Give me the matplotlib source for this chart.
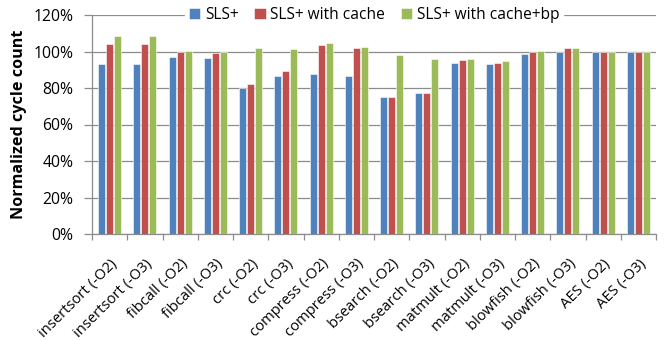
import numpy as np
import matplotlib
matplotlib.use("Agg")
import matplotlib.pyplot as plt
from matplotlib.ticker import PercentFormatter

matplotlib.rcParams["font.family"] = ["Open Sans", "DejaVu Sans"]

# Data (percent of baseline cycle count)
benchmarks = [
    "insertsort (-O2)", "insertsort (-O3)", "fibcall (-O2)", "fibcall (-O3)",
    "crc (-O2)", "crc (-O3)", "compress (-O2)", "compress (-O3)",
    "bsearch (-O2)", "bsearch (-O3)", "matmult (-O2)", "matmult (-O3)",
    "blowfish (-O2)", "blowfish (-O3)", "AES (-O2)", "AES (-O3)",
]
sls = [93.3, 93.3, 97.1, 96.2, 80.0, 86.5, 87.8, 86.5,
       74.9, 77.3, 93.8, 93.1, 98.9, 100.0, 100.0, 100.0]
sls_cache = [104.0, 104.0, 100.0, 99.1, 82.0, 89.3, 103.5, 101.8,
             74.9, 77.3, 95.1, 93.8, 100.0, 101.8, 100.0, 100.0]
sls_cache_bp = [108.3, 108.3, 100.5, 100.0, 101.8, 101.4, 104.4, 102.5,
                98.2, 96.0, 96.0, 94.7, 100.5, 101.8, 100.0, 100.0]
series_names = ["SLS+", "SLS+ with cache", "SLS+ with cache+bp"]
colors = ["#4F81BD", "#C0504D", "#9BBB59"]

fig = plt.figure(figsize=(6.64, 3.4), dpi=100)
ax = fig.add_axes([92 / 664, 1 - 234 / 340, (656 - 92) / 664, (234 - 15) / 340])

x = np.arange(len(benchmarks))
width = 0.2
step = 0.227
for i, (vals, name, c) in enumerate(zip([sls, sls_cache, sls_cache_bp], series_names, colors)):
    ax.bar(x + (i - 1) * step, vals, width, color=c, label=name,
           edgecolor="white", linewidth=0.4, zorder=3)

ax.set_xlim(-0.5, len(benchmarks) - 0.5)
ax.set_ylim(0, 120)
ax.set_yticks(np.arange(0, 121, 20))
ax.yaxis.set_major_formatter(PercentFormatter(decimals=0))
ax.grid(axis="y", color="#8C8C8C", linewidth=0.9, zorder=0)

ax.set_xticks(x)
ax.set_xticklabels(benchmarks, rotation=45, ha="right", rotation_mode="anchor", fontsize=10.6)
ax.set_xticks(np.arange(-0.5, len(benchmarks), 1), minor=True)
ax.tick_params(axis="x", which="major", length=0, pad=16)
ax.tick_params(axis="x", which="minor", length=4.5, color="#8C8C8C", width=0.9)
ax.tick_params(axis="y", length=5.5, color="#8C8C8C", width=0.9, labelsize=11.3, pad=8)

for side in ["top", "right"]:
    ax.spines[side].set_visible(False)
for side in ["left", "bottom"]:
    ax.spines[side].set_color("#8C8C8C")
    ax.spines[side].set_linewidth(0.9)

ax.set_ylabel("Normalized cycle count", fontsize=11.6, fontweight="bold")
ax.yaxis.set_label_coords(-0.115, 0.5)

leg = ax.legend(loc="center", bbox_to_anchor=(0.5, 1.0), ncol=3, frameon=True,
                fontsize=11.2, handlelength=0.75, handleheight=0.75, handletextpad=0.3,
                columnspacing=1.0, borderpad=0.2, fancybox=False)
leg.get_frame().set_facecolor("white")
leg.get_frame().set_edgecolor("white")
leg.get_frame().set_alpha(1)

fig.savefig("out.png", dpi=100)
